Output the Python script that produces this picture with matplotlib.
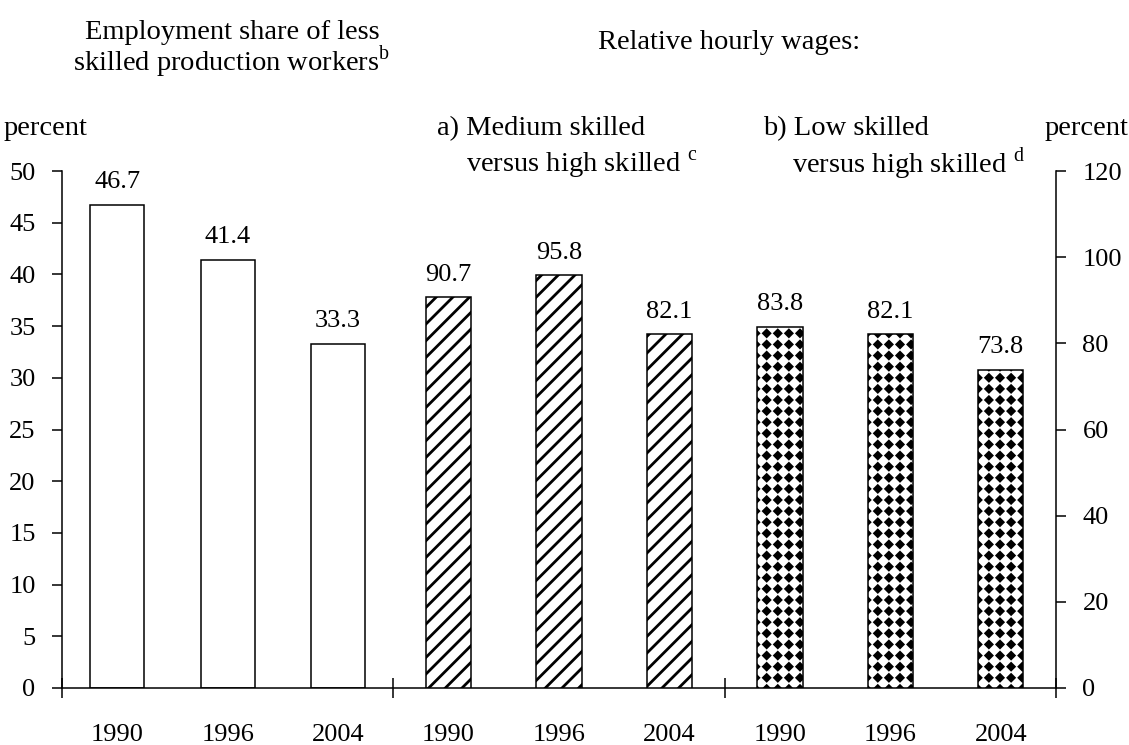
import numpy as np
import matplotlib
matplotlib.use('Agg')
import matplotlib.pyplot as plt
from matplotlib import hatch as mhatch
from matplotlib.path import Path

years = ['1990', '1996', '2004']
employment_share = [46.7, 41.4, 33.3]      # left axis
wage_medium_high = [90.7, 95.8, 82.1]      # right axis
wage_low_high = [83.8, 82.1, 73.8]         # right axis


# square grid of filled diamonds for the '.' hatch (the stock one is staggered tiny dots)
class DiamondGrid(mhatch.HatchPatternBase):
    def __init__(self, hatch, density):
        self.num_rows = 9 if '.' in hatch else 0
        self.num_vertices = (self.num_rows + 1) ** 2 * 5 if self.num_rows else 0

    def set_vertices_and_codes(self, vertices, codes):
        step = 1.0 / self.num_rows
        r = 0.28 * step
        shape = np.array([[0, r], [r, 0], [0, -r], [-r, 0], [0, r]])
        pos = np.arange(self.num_rows + 1) * step
        parts = [shape + [x, y] for y in pos for x in pos]
        vertices[:] = np.concatenate(parts)
        codes[:] = np.tile([Path.MOVETO, Path.LINETO, Path.LINETO, Path.LINETO,
                            Path.CLOSEPOLY], len(parts))


mhatch._hatch_types = [t for t in mhatch._hatch_types
                       if t is not mhatch.SmallFilledCircles] + [DiamondGrid]

plt.rcParams['font.family'] = 'Liberation Serif'
plt.rcParams['font.size'] = 19
plt.rcParams['mathtext.fontset'] = 'custom'
plt.rcParams['mathtext.rm'] = 'Liberation Serif'
plt.rcParams['hatch.linewidth'] = 2.0

W, H = 1129, 745
fig = plt.figure(figsize=(W / 100, H / 100), dpi=100)
ax = fig.add_axes([62 / W, 1 - 688 / H, (1056 - 62) / W, (688 - 171) / H])
ax2 = ax.twinx()

x = np.arange(9)
ax.bar(x[:3], employment_share, 0.49, color='white', edgecolor='black', lw=1.1, zorder=2)
ax2.bar(x[3:6], wage_medium_high, 0.41, color='white', edgecolor='black', lw=1.1,
        hatch='//', zorder=2)
ax2.bar(x[6:], wage_low_high, 0.41, color='white', edgecolor='black', lw=1.1,
        hatch='.', zorder=2)

for xi, v in zip(x[:3], employment_share):
    ax.annotate(f'{v:.1f}', (xi, v), xytext=(0, 12), textcoords='offset points',
                ha='center', va='baseline')
for xi, v in zip(x[3:], wage_medium_high + wage_low_high):
    ax2.annotate(f'{v:.1f}', (xi, v), xytext=(0, 12), textcoords='offset points',
                 ha='center', va='baseline')

ax.set_xlim(-0.5, 8.5)
ax.set_ylim(0, 50)
ax2.set_ylim(0, 120)
ax.set_yticks(range(0, 51, 5))
ax2.set_yticks(range(0, 121, 20))

ax.set_xticks(x)
ax.set_xticklabels(years * 3)
ax.tick_params(axis='x', which='major', length=0, pad=26)
ax.set_xticks([-0.5, 2.5, 5.5, 8.5], minor=True)
ax.tick_params(axis='x', which='minor', direction='inout', length=14, width=1.1)
ax.tick_params(axis='y', direction='out', length=7, width=1.1, pad=12)
ax2.tick_params(axis='y', direction='out', length=7, width=1.1, pad=12)

for a in (ax, ax2):
    a.spines['top'].set_visible(False)
    for s in a.spines.values():
        s.set_linewidth(1.1)
ax.spines['right'].set_visible(False)
ax2.spines['left'].set_visible(False)
ax2.spines['bottom'].set_visible(False)


def ftext(px, py, s, va='baseline', **kw):
    fig.text(px / W, 1 - py / H, s, va=va, fontsize=20.5, **kw)


ftext(232, 20, 'Employment share of less\n' r'skilled production workers$^{\mathrm{b}}$',
      va='top', ha='center', multialignment='center', linespacing=0.93)
ftext(598, 49, 'Relative hourly wages:')
ftext(4, 135, 'percent')
ftext(437, 135, 'a) Medium skilled')
ftext(466, 172, r'versus high skilled $^{\mathrm{c}}$')
ftext(763, 135, 'b) Low skilled')
ftext(792, 172, r'versus high skilled $^{\mathrm{d}}$')
ftext(1128, 135, 'percent', ha='right')

fig.savefig('out.png', dpi=100)
